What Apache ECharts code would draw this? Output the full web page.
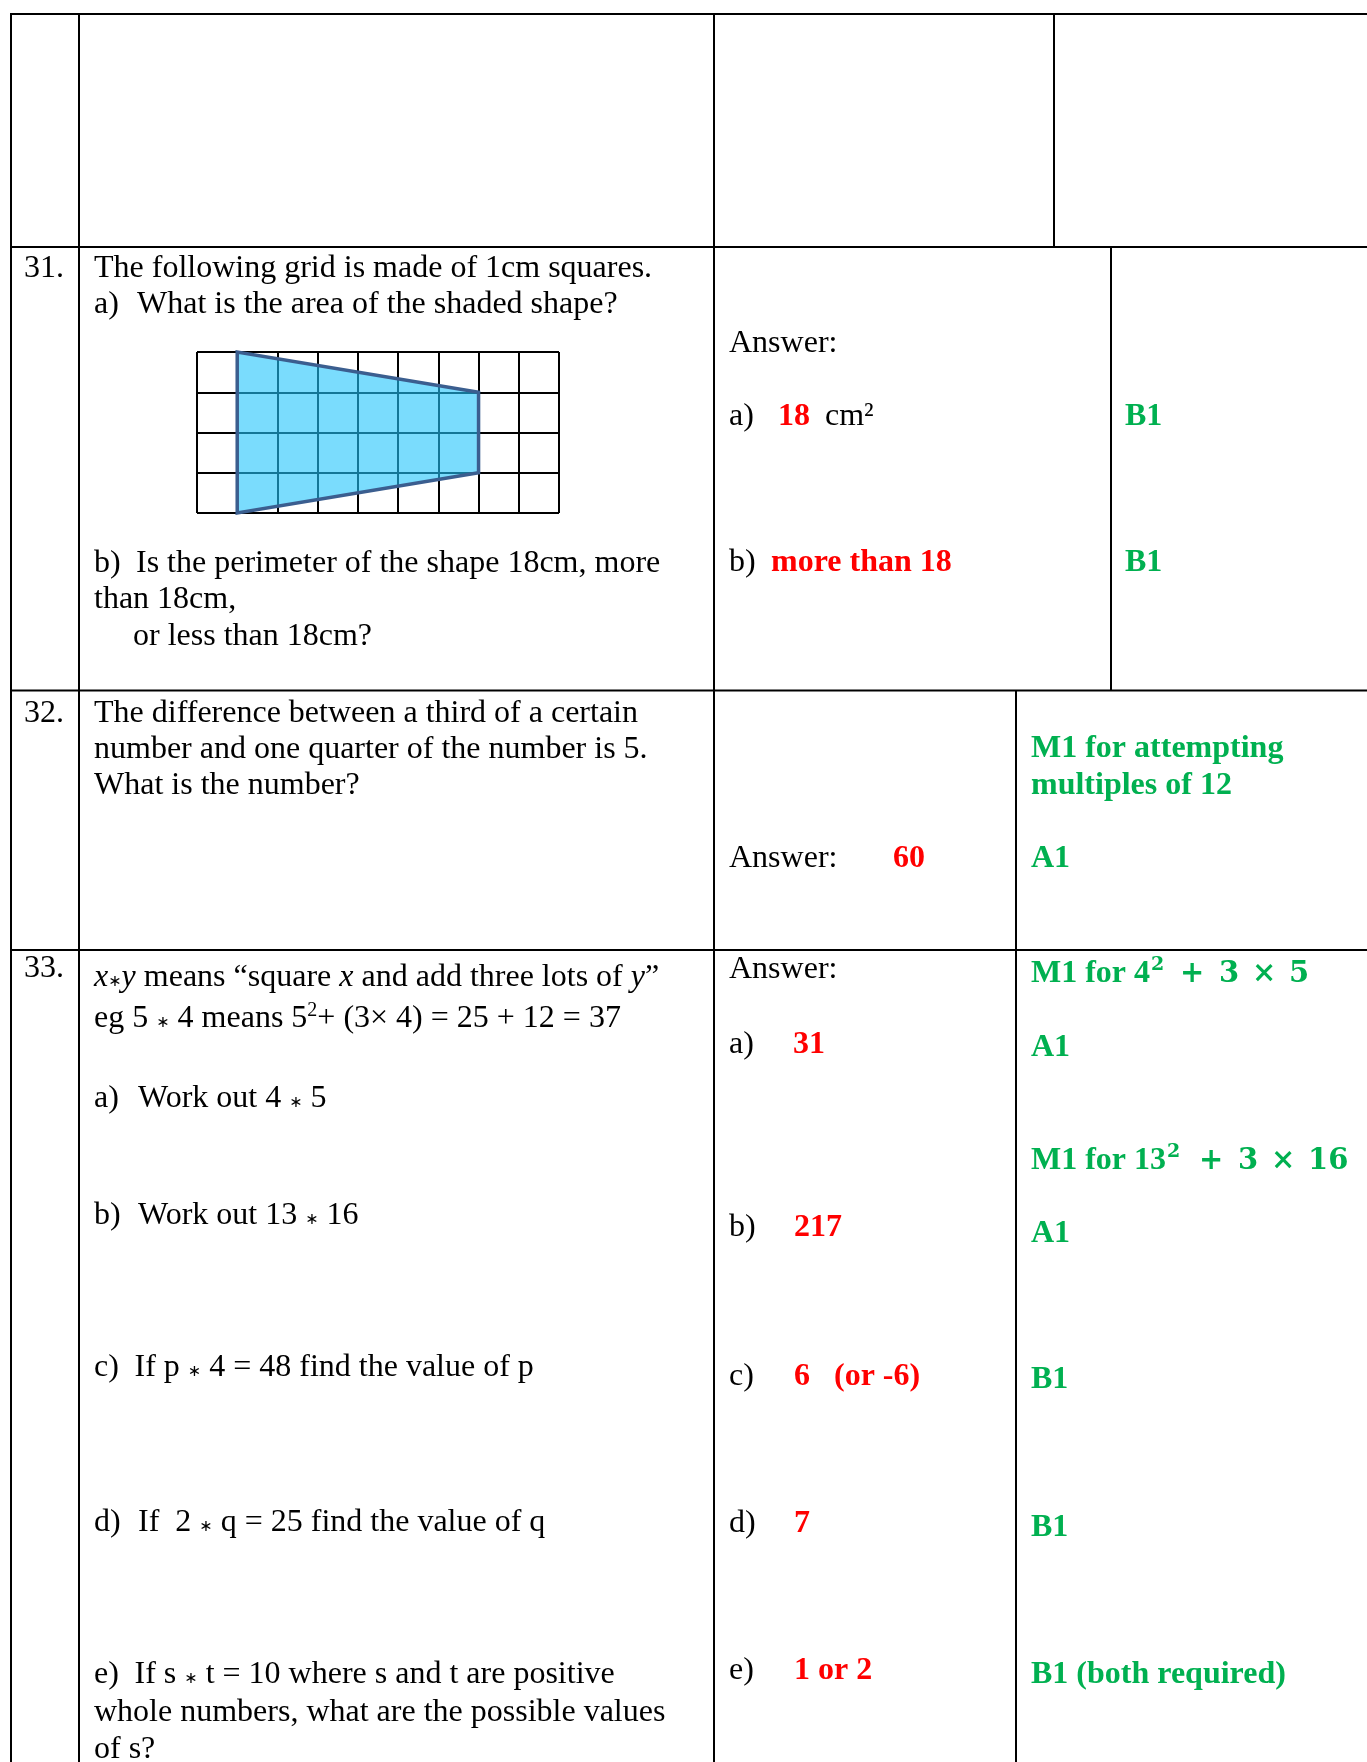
<!DOCTYPE html>
<html><head><meta charset="utf-8">
<script src="https://cdn.jsdelivr.net/npm/echarts@6/dist/echarts.min.js"></script>
<style>html,body{margin:0;padding:0;background:#fff}#c{width:1367px;height:1762px}</style>
</head><body><div id="c"></div>
<script>
// ---- data ----
const gridXTicks = [0, 1, 2, 3, 4, 5, 6, 7, 8, 9];
const gridYTicks = [0, 1, 2, 3, 4];
const shapeX = [1, 1, 7, 7];
const shapeY = [0, 4, 3, 1];
const questionNumbers = ['31.', '32.', '33.'];
const q31Lines = ['The following grid is made of 1cm squares.', 'a)', 'What is the area of the shaded shape?', 'b)', 'Is the perimeter of the shape 18cm, more', 'than 18cm,', 'or less than 18cm?'];
const q31Answers = ['Answer:', 'a)', '18', 'cm²', 'b)', 'more than 18'];
const q31Marks = ['B1', 'B1'];
const q32Lines = ['The difference between a third of a certain', 'number and one quarter of the number is 5.', 'What is the number?'];
const q32Answers = ['Answer:', '60'];
const q32Marks = ['M1 for attempting', 'multiples of 12', 'A1'];
const STAR = '∗';
const q33Labels = ['a)', 'b)', 'c)', 'd)', 'e)'];
const q33Definition = ['x', STAR, 'y', ' means “square ', 'x', ' and add three lots of ', 'y', '”'];
const q33Example = ['eg 5 ', STAR, ' 4 means 5', '2', '+ (3× 4) = 25 + 12 = 37'];
const q33Parts = [
  ['Work out 4 ', STAR, ' 5'],
  ['Work out 13 ', STAR, ' 16'],
  ['If p ', STAR, ' 4 = 48 find the value of p'],
  ['If  2 ', STAR, ' q = 25 find the value of q'],
  ['If s ', STAR, ' t = 10 where s and t are positive']
];
const q33Tail = ['whole numbers, what are the possible values', 'of s?'];
const q33Answers = ['Answer:', '31', '217', '6', '(or -6)', '7', '1 or 2'];
const q33Marks = ['M1 for 4', '2', '+', '3', '×', '5', 'A1', 'M1 for 13', '2', '+', '3', '×', '16', 'A1', 'B1', 'B1', 'B1 (both required)'];

// ---- layout ----
const SERIF = '"Liberation Serif", "Times New Roman", serif';
const MATH = '"DejaVu Serif", serif';
const SANS = '"DejaVu Sans", sans-serif';
const RED = '#FF0000', GREEN = '#00B050';
const els = [];
const mctx = document.createElement('canvas').getContext('2d');
function fontStr(o) {
  return (o.italic ? 'italic ' : '') + (o.bold ? 'bold ' : '') + (o.size || 32) + 'px ' + (o.family || SERIF);
}
function measure(t, o) { mctx.font = fontStr(o); return mctx.measureText(t).width; }
function T(x, base, text, o) {
  o = o || {};
  const fs = o.size || 32;
  els.push({
    type: 'text', x: x, y: base - fs * 0.25, z: 10, silent: true,
    style: {
      text: text, fontFamily: o.family || SERIF, fontSize: fs,
      fontWeight: o.bold ? 'bold' : 'normal', fontStyle: o.italic ? 'italic' : 'normal',
      fill: o.color || '#000', align: 'left', verticalAlign: 'middle'
    }
  });
}
// flowing run of segments, each [text, style]
function F(x, base, segs, def) {
  let cx = x;
  segs.forEach(s => {
    const o = Object.assign({}, def || {}, s[1] || {});
    cx += (o.gapBefore || 0);
    T(cx, base + (o.dy || 0), s[0], o);
    cx += measure(s[0], o) + (o.gapAfter || 0);
  });
}
function L(x1, y1, x2, y2) {
  els.push({ type: 'line', z: 5, silent: true, shape: { x1, y1, x2, y2 }, style: { stroke: '#000', lineWidth: 2 } });
}
const AST = { family: SANS, size: 16 };
const IT = { italic: true };
const G = { bold: true, color: GREEN };
const GM = { bold: true, color: GREEN, family: MATH, size: 29 };
const GS = { bold: true, color: GREEN, family: MATH, size: 19 };
const R = { bold: true, color: RED };

// table rules
[14, 247, 690.5, 950].forEach(y => L(10, y, 1367, y));
L(11, 13, 11, 1762);
L(79, 13, 79, 1762);
L(714, 13, 714, 1762);
L(1054, 14, 1054, 247);
L(1111, 247, 1111, 690.5);
L(1016, 690.5, 1016, 1762);

// numbers
T(24, 277, questionNumbers[0]);
T(24, 722, questionNumbers[1]);
T(24, 977, questionNumbers[2]);

// Q31
T(94, 277, q31Lines[0]);
T(94, 313, q31Lines[1]); T(137, 313, q31Lines[2]);
T(94, 572, q31Lines[3]); T(136, 572, q31Lines[4]);
T(94, 608, q31Lines[5]);
T(133, 645, q31Lines[6]);
T(729, 352, q31Answers[0]);
T(729, 425, q31Answers[1]); T(778, 425, q31Answers[2], R); T(825, 425, q31Answers[3]);
T(729, 571, q31Answers[4]); T(771, 571, q31Answers[5], R);
T(1125, 425, q31Marks[0], G);
T(1125, 571, q31Marks[1], G);

// Q32
T(94, 722, q32Lines[0]);
T(94, 758, q32Lines[1]);
T(94, 794, q32Lines[2]);
T(729, 867, q32Answers[0]); T(893, 867, q32Answers[1], R);
T(1031, 757, q32Marks[0], G);
T(1031, 794, q32Marks[1], G);
T(1031, 867, q32Marks[2], G);

// Q33 question
const defStyles = [IT, AST, IT, {}, IT, {}, IT, {}];
F(94, 986, q33Definition.map((t, i) => [t, defStyles[i]]));
const exStyles = [{}, AST, {}, { size: 20, dy: -11 }, {}];
F(94, 1027, q33Example.map((t, i) => [t, exStyles[i]]));
const partBase = [1107, 1224, 1376, 1531, 1683];
const partX = [138, 138, 134.5, 138, 134.5];
q33Parts.forEach((p, k) => {
  T(94, partBase[k], q33Labels[k]);
  F(partX[k], partBase[k], p.map(t => [t, t === STAR ? AST : {}]));
});
T(94, 1721, q33Tail[0]);
T(94, 1758, q33Tail[1]);

// Q33 answers
const ansBase = [1053, 1236, 1385, 1532, 1679];
T(729, 978, q33Answers[0]);
q33Labels.forEach((l, k) => T(729, ansBase[k], l));
T(793, 1053, q33Answers[1], R);
T(794, 1236, q33Answers[2], R);
T(794, 1385, q33Answers[3], R); T(834, 1385, q33Answers[4], R);
T(794, 1532, q33Answers[5], R);
T(794, 1679, q33Answers[6], R);

// Q33 marks
F(1031, 982, [[q33Marks[0], G], [q33Marks[1], Object.assign({ dy: -12, gapBefore: 1 }, GS)]]);
T(1180, 982, q33Marks[2], GM); T(1219, 982, q33Marks[3], GM); T(1252, 982, q33Marks[4], GM); T(1289, 982, q33Marks[5], GM);
T(1031, 1056, q33Marks[6], G);
F(1031, 1169, [[q33Marks[7], G], [q33Marks[8], Object.assign({ dy: -12, gapBefore: 1 }, GS)]]);
T(1199, 1169, q33Marks[9], GM); T(1238, 1169, q33Marks[10], GM); T(1271, 1169, q33Marks[11], GM); T(1308, 1169, q33Marks[12], GM);
T(1031, 1242, q33Marks[13], G);
T(1031, 1388, q33Marks[14], G);
T(1031, 1536, q33Marks[15], G);
T(1031, 1683, q33Marks[16], G);

const chart = echarts.init(document.getElementById('c'), null, { renderer: 'canvas' });
chart.setOption({
  animation: false,
  backgroundColor: '#fff',
  grid: { left: 197, top: 352, width: 362, height: 161, show: false },
  xAxis: {
    type: 'value', min: gridXTicks[0], max: gridXTicks[gridXTicks.length - 1], interval: 1,
    axisLine: { show: false }, axisTick: { show: false }, axisLabel: { show: false },
    splitLine: { show: true, showMinLine: true, showMaxLine: true, lineStyle: { color: '#000', width: 2 } }
  },
  yAxis: {
    type: 'value', min: gridYTicks[0], max: gridYTicks[gridYTicks.length - 1], interval: 1,
    axisLine: { show: false }, axisTick: { show: false }, axisLabel: { show: false },
    splitLine: { show: true, showMinLine: true, showMaxLine: true, lineStyle: { color: '#000', width: 2 } }
  },
  series: [{
    type: 'custom', coordinateSystem: 'cartesian2d', silent: true, clip: false,
    data: shapeX.map((x, i) => [x, shapeY[i]]),
    renderItem: function (params, api) {
      if (params.dataIndex !== 0) return { type: 'group', children: [] };
      const pts = shapeX.map((x, i) => api.coord([x, shapeY[i]]));
      return {
        type: 'polygon', shape: { points: pts },
        style: { fill: 'rgba(33,197,252,0.6)', stroke: '#3B5E8F', lineWidth: 3.5, lineJoin: 'miter' }
      };
    }
  }],
  graphic: { elements: els }
});
</script>
</body></html>
